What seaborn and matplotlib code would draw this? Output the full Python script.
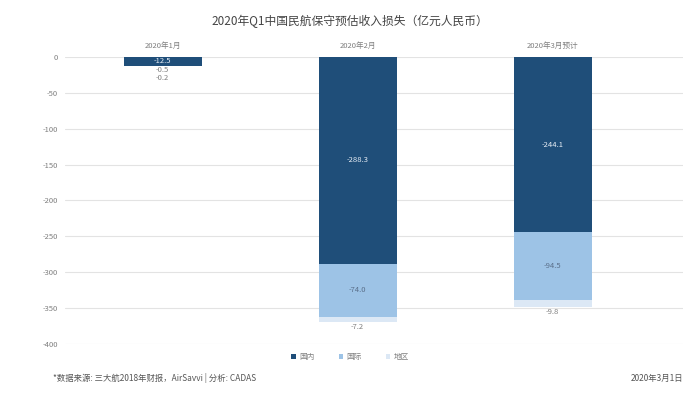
import numpy as np
import pandas as pd
import matplotlib
matplotlib.use('Agg')
import matplotlib.pyplot as plt
from matplotlib.patches import Patch
import seaborn as sns

# data (亿元人民币)
months = ['2020年1月', '2020年2月', '2020年3月预计']
domestic = [-12.5, -288.3, -244.1]
international = [-0.5, -74.0, -94.5]
regional = [-0.2, -7.2, -9.8]
series_names = ['国内', '国际', '地区']
y_ticks = [0, -50, -100, -150, -200, -250, -300, -350, -400]

navy = '#1f4e79'
light_blue = '#9dc3e6'
pale_blue = '#dce8f5'
grid_gray = '#e3e3e3'
text_gray = '#7f7f7f'

sns.set_style('white')
plt.rcParams['font.family'] = ['Noto Sans CJK SC', 'DejaVu Sans']

df = pd.DataFrame({'month': months, 'domestic': domestic,
                   'international': international, 'regional': regional})
df['cum_intl'] = df['domestic'] + df['international']
df['cum_total'] = df['cum_intl'] + df['regional']

fig = plt.figure(figsize=(7, 3.93), dpi=100)
ax = fig.add_axes([0.093, 0.1247, 0.883, 0.7303])

# stacked negative bars: draw the deepest total first, then overlay
sns.barplot(data=df, x='month', y='cum_total', color=pale_blue, width=0.4,
            saturation=1, linewidth=0, ax=ax, zorder=2)
sns.barplot(data=df, x='month', y='cum_intl', color=light_blue, width=0.4,
            saturation=1, linewidth=0, ax=ax, zorder=3)
sns.barplot(data=df, x='month', y='domestic', color=navy, width=0.4,
            saturation=1, linewidth=0, ax=ax, zorder=4)

ax.set_ylim(-400, 0)
ax.set_xlim(-0.5, 2.67)
ax.set_yticks(y_ticks)
ax.set_yticklabels([str(t) for t in y_ticks])
ax.yaxis.grid(True, color=grid_gray, linewidth=0.8, zorder=0)
ax.set_axisbelow(True)
sns.despine(ax=ax, left=True, bottom=True)
ax.tick_params(axis='y', length=0, labelsize=5.5, labelcolor=text_gray, pad=5)
ax.set_xlabel('')
ax.set_ylabel('')

# month labels sit on top of the plot area
ax.xaxis.tick_top()
ax.tick_params(axis='x', length=0, labelsize=5.5, labelcolor=text_gray, pad=5)

# value labels
for i in range(len(months)):
    d, n, r = domestic[i], international[i], regional[i]
    ax.text(i, d / 2, f'{d:.1f}', ha='center', va='center', fontsize=5.5,
            color='#e8eef6', zorder=5)
    if abs(n) > 20:
        ax.text(i, d + n / 2, f'{n:.1f}', ha='center', va='center', fontsize=5.5,
                color='#5a6f8a', zorder=5)
        ax.annotate(f'{r:.1f}', (i, d + n + r), xytext=(0, -1), textcoords='offset points',
                    ha='center', va='top', fontsize=5.5, color=text_gray, zorder=5)
    else:
        ax.annotate(f'{n:.1f}', (i, d), xytext=(0, 0), textcoords='offset points',
                    ha='center', va='top', fontsize=5.5, color=text_gray, zorder=5)
        ax.annotate(f'{r:.1f}', (i, d), xytext=(0, -5.5), textcoords='offset points',
                    ha='center', va='top', fontsize=5.5, color=text_gray, zorder=5)

fig.text(0.5, 0.945, '2020年Q1中国民航保守预估收入损失（亿元人民币）', ha='center',
         va='center', fontsize=8.5, color='#444444')

handles = [Patch(facecolor=c, edgecolor='none') for c in (navy, light_blue, pale_blue)]
fig.legend(handles, series_names, loc='center', bbox_to_anchor=(0.5, 0.092), ncol=3,
           frameon=False, fontsize=5.5, labelcolor=text_gray, handlelength=0.6,
           handleheight=0.6, handletextpad=0.4, columnspacing=3.2)

fig.text(0.076, 0.038, '*数据来源: 三大航2018年财报，AirSavvi | 分析: CADAS', ha='left',
         va='center', fontsize=6, color='#555555')
fig.text(0.976, 0.038, '2020年3月1日', ha='right', va='center', fontsize=6,
         color='#555555')

fig.savefig('out.png', dpi=100, facecolor='white')
